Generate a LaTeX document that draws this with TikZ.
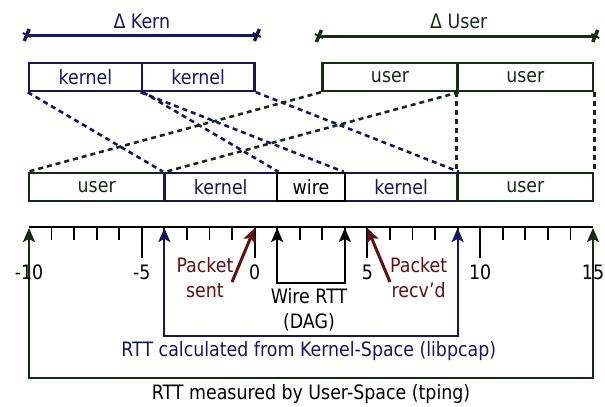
\documentclass[tikz,border=0pt]{standalone}
\usepackage{fontspec}
\usepackage{graphicx}
\setmainfont{DejaVu Sans}
\usetikzlibrary{arrows.meta}
\definecolor{navy}{RGB}{22,22,95}
\definecolor{dgreen}{RGB}{18,45,18}
\definecolor{dred}{RGB}{95,15,15}
\newcommand{\tl}[1]{\scalebox{1}[1.14]{#1}}
\tikzset{
  lbl/.style={inner sep=0pt, font=\fontsize{17.4}{20}\selectfont},
  seg/.style={draw, line width=2.5pt, minimum height=28pt, inner sep=0pt, lbl},
  kbox/.style={seg, navy, text=navy},
  ubox/.style={seg, dgreen, text=dgreen},
  wbox/.style={seg, black},
  kdash/.style={navy, line width=2.6pt, dash pattern=on 5pt off 4pt},
  udash/.style={dgreen, line width=2.6pt, dash pattern=on 5pt off 4pt},
  tip/.style={-{Stealth[length=14pt,width=12pt,inset=3pt]}},
  tips/.style={{Stealth[length=14pt,width=12pt,inset=3pt]}-{Stealth[length=14pt,width=12pt,inset=3pt]}},
  delta/.style={line width=3pt},
  endmark/.style={line width=3.5pt},
}
\begin{document}
\begin{tikzpicture}[x=22.56pt, y=-1pt, shift={(11.286,0)}]
\useasboundingbox (-11.286,0) rectangle (15.532,407);
% Delta lines
\node[lbl, navy] (dk) at (-5,21) {\tl{Δ Kern}};
\node[lbl, dgreen] (du) at (9.05,21) {\tl{Δ User}};
\coordinate (dkL) at (-10.1,35); \coordinate (dkR) at (0.1,35);
\coordinate (duL) at (2.85,36); \coordinate (duR) at (15.1,36);
\draw[delta, navy] (dkL) -- (dkR);
\draw[delta, dgreen] (duL) -- (duR);
\foreach \p/\c in {dkL/navy, dkR/navy, duL/dgreen, duR/dgreen} {
  \draw[endmark, \c] ([shift={(-2.5pt,-6pt)}]\p) -- ([shift={(2.5pt,6pt)}]\p);
  \draw[line width=2pt, \c] ([shift={(-4pt,2pt)}]\p) -- ([shift={(4pt,-2pt)}]\p);
}
% top boxes
\node[kbox, minimum width=112.8pt] (k1) at (-7.5,77) {\tl{kernel}};
\node[kbox, minimum width=112.8pt] (k2) at (-2.5,77) {\tl{kernel}};
\node[ubox, minimum width=135.4pt] (u1) at (6,77) {\tl{user}};
\node[ubox, minimum width=135.4pt] (u2) at (12,77) {\tl{user}};
% bottom boxes
\node[ubox, minimum width=135.4pt] (bu1) at (-7,187) {\tl{user}};
\node[kbox, minimum width=112.8pt] (bk1) at (-1.5,187) {\tl{kernel}};
\node[kbox, minimum width=112.8pt] (bk2) at (6.5,187) {\tl{kernel}};
\node[ubox, minimum width=135.4pt] (bu2) at (12,187) {\tl{user}};
\node[wbox, minimum width=67.7pt] (w) at (2.5,187) {\tl{wire}};
% dashed mappings
\draw[kdash] (k1.south west) -- (bk1.north west);
\draw[kdash] (k1.south east) -- (bk1.north east);
\draw[kdash] (k2.south west) -- (bk2.north west);
\draw[kdash] (k2.south east) -- (bk2.north east);
\draw[udash] (u1.south west) -- (bu1.north west);
\draw[udash] (u1.south east) -- (bu1.north east);
\draw[udash] (u2.south west) -- (bu2.north west);
\draw[udash] (u2.south east) -- (bu2.north east);
% axis
\coordinate (axL) at (-10,227); \coordinate (axR) at (15,227);
\draw[line width=2pt] (axL) -- (axR);
\foreach \u in {-9,...,14} {\draw[line width=1.8pt] (\u,227) -- (\u,240);}
\foreach \u in {-5,0,5,10} {\draw[line width=2pt] (\u,227) -- (\u,258);}
\foreach \u/\n in {-10/m10,-5/m5,0/z,5/p5,10/p10,15/p15} {\node[lbl] (t\n) at (\u,272) {\tl{\u}};}
% wire bracket
\coordinate (wA) at (1,228); \coordinate (wB) at (4,228);
\coordinate (wA2) at (1,283); \coordinate (wB2) at (4,283);
\draw[tips, line width=2pt] (wA) -- (wA2) -- (wB2) -- (wB);
\node[lbl] (wl1) at (2.41,296) {\tl{Wire RTT}};
\node[lbl] (wl2) at (2.41,322) {\tl{(DAG)}};
% kernel bracket
\coordinate (kA) at (-4,228); \coordinate (kB) at (9,228);
\coordinate (kA2) at (-4,336); \coordinate (kB2) at (9,336);
\draw[tips, navy, line width=2pt] (kA) -- (kA2) -- (kB2) -- (kB);
\node[lbl, navy] (kl) at (2.4,351) {\tl{RTT calculated from Kernel-Space (libpcap)}};
% user bracket
\coordinate (uA) at (-10,228); \coordinate (uB) at (15,228);
\coordinate (uA2) at (-10,378); \coordinate (uB2) at (15,378);
\draw[tips, dgreen, line width=2.5pt] (uA) -- (uA2) -- (uB2) -- (uB);
\node[lbl] (ul) at (2.5,394) {\tl{RTT measured by User-Space (tping)}};
% packet arrows
\coordinate (psT) at (-1.0,282); \coordinate (psH) at (0,228);
\coordinate (prT) at (6.0,282); \coordinate (prH) at (5,228);
\draw[tip, dred, line width=3pt] (psT) -- (psH);
\draw[tip, dred, line width=3pt] (prT) -- (prH);
\node[lbl, dred] (ps1) at (-2.2,265) {\tl{Packet}};
\node[lbl, dred] (ps2) at (-2.2,291) {\tl{sent}};
\node[lbl, dred] (pr1) at (7.27,265) {\tl{Packet}};
\node[lbl, dred] (pr2) at (7.27,290) {\tl{recv'd}};
\end{tikzpicture}
\end{document}
